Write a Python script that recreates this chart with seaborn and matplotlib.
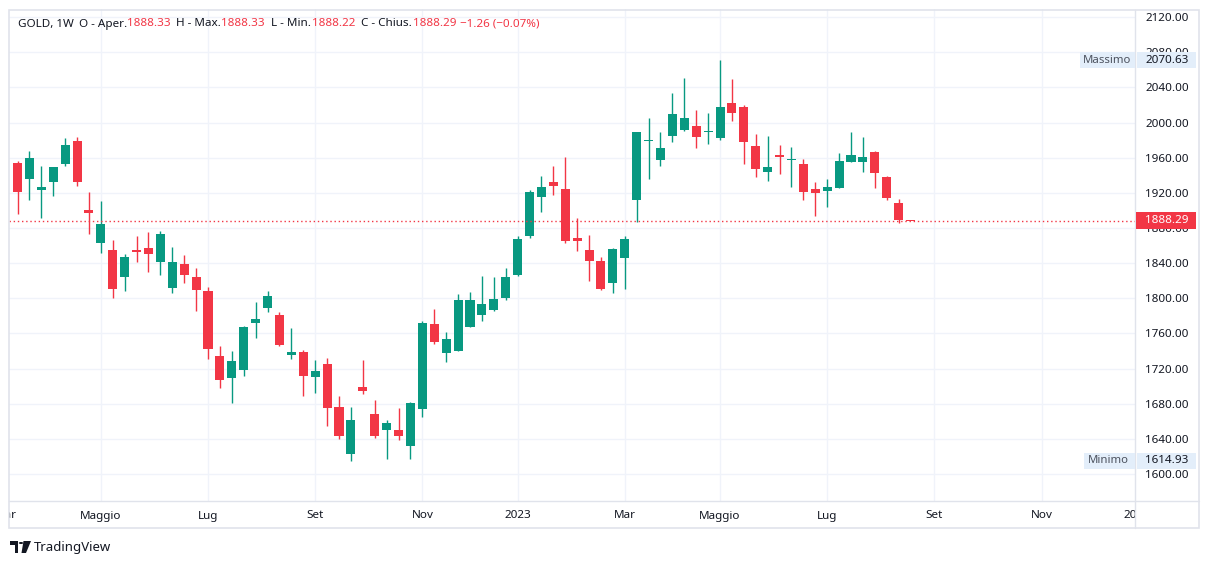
import numpy as np
import pandas as pd
import matplotlib
matplotlib.use("Agg")
import matplotlib.pyplot as plt
import seaborn as sns
from matplotlib.patches import Rectangle, Circle, Polygon
from matplotlib.lines import Line2D
from matplotlib.transforms import blended_transform_factory

# ---------------- data ----------------
start_date = "2022-03-14"
opens = [1954.2, 1935.9, 1923.4, 1932.5, 1953.2, 1979.0, 1900.4, 1863.3, 1855.0, 1824.5,
         1855.0, 1857.2, 1841.5, 1812.0, 1838.9, 1824.1, 1808.2, 1734.2, 1709.6, 1718.7,
         1772.2, 1789.3, 1781.0, 1735.7, 1738.8, 1710.7, 1725.1, 1676.3, 1623.3, 1699.0,
         1668.4, 1650.5, 1650.2, 1632.3, 1674.4, 1770.8, 1738.0, 1740.2, 1767.7, 1781.3,
         1787.0, 1800.6, 1826.7, 1871.2, 1915.5, 1932.2, 1924.2, 1868.6, 1855.0, 1842.3,
         1817.6, 1846.0, 1912.1, 1979.3, 1957.7, 1985.0, 1991.8, 1996.0, 1989.5, 1982.7,
         2022.1, 2017.5, 1973.3, 1943.9, 1963.0, 1957.7, 1952.8, 1924.2, 1922.3, 1925.7,
         1955.4, 1955.4, 1966.4, 1937.9, 1908.3, 1888.33]
highs = [1956.1, 1967.6, 1950.4, 1949.2, 1982.3, 1983.5, 1921.2, 1910.6, 1866.3, 1850.2,
         1870.9, 1875.4, 1876.5, 1858.4, 1849.1, 1834.3, 1812.8, 1745.6, 1739.9, 1768.5,
         1795.7, 1808.6, 1784.4, 1766.6, 1741.0, 1729.7, 1731.9, 1689.2, 1676.3, 1729.7,
         1684.3, 1661.6, 1675.2, 1682.0, 1774.2, 1787.8, 1761.7, 1804.8, 1807.1, 1825.3,
         1824.1, 1834.3, 1870.9, 1923.1, 1939.0, 1950.4, 1960.8, 1891.3, 1872.0, 1846.8,
         1857.2, 1870.9, 1989.2, 2005.1, 1989.2, 2033.4, 2050.5, 2014.1, 2010.7, 2070.63,
         2049.3, 2019.8, 1986.9, 1984.6, 1974.4, 1972.1, 1958.5, 1932.2, 1935.6, 1965.3,
         1989.2, 1983.5, 1967.6, 1939.0, 1912.9, 1888.33]
lows = [1895.8, 1911.7, 1891.7, 1916.3, 1950.7, 1928.0, 1873.5, 1851.9, 1800.6, 1808.5,
        1841.5, 1830.1, 1826.7, 1806.3, 1817.6, 1785.9, 1731.2, 1698.2, 1681.2, 1711.9,
        1755.2, 1784.7, 1745.6, 1731.2, 1689.2, 1692.6, 1655.1, 1640.3, 1614.93, 1691.4,
        1641.4, 1617.6, 1639.2, 1617.6, 1665.3, 1748.2, 1727.8, 1740.2, 1767.7, 1774.5,
        1785.9, 1798.3, 1825.6, 1869.0, 1898.5, 1917.8, 1863.3, 1854.2, 1819.9, 1809.7,
        1806.3, 1810.8, 1887.1, 1935.9, 1950.7, 1978.1, 1990.6, 1971.3, 1975.9, 1980.4,
        2002.0, 1953.2, 1938.2, 1933.7, 1941.6, 1926.8, 1912.1, 1893.9, 1904.1, 1925.7,
        1955.4, 1943.9, 1925.7, 1912.1, 1886.0, 1888.22]
closes = [1921.2, 1959.6, 1926.5, 1949.2, 1974.4, 1932.5, 1897.3, 1884.5, 1810.8, 1846.8,
          1852.7, 1850.6, 1873.1, 1841.1, 1826.7, 1809.7, 1742.5, 1707.3, 1728.5, 1767.4,
          1776.4, 1802.6, 1747.1, 1738.8, 1711.9, 1717.2, 1675.5, 1643.7, 1661.6, 1694.8,
          1643.7, 1658.2, 1643.7, 1680.9, 1771.9, 1750.6, 1753.8, 1798.0, 1798.0, 1793.5,
          1799.2, 1824.1, 1867.5, 1920.8, 1926.5, 1928.0, 1865.5, 1865.5, 1842.6, 1810.8,
          1856.1, 1867.5, 1989.2, 1980.4, 1971.0, 2009.6, 2005.1, 1983.8, 1990.3, 2017.5,
          2011.1, 1978.1, 1947.3, 1949.2, 1961.1, 1958.5, 1921.2, 1920.0, 1926.5, 1956.2,
          1963.0, 1960.8, 1942.8, 1914.4, 1889.55, 1888.29]

tick_dates = ["2022-03-07", "2022-05-02", "2022-07-04", "2022-09-05", "2022-11-07",
              "2023-01-02", "2023-03-06", "2023-05-01", "2023-07-03", "2023-09-04",
              "2023-11-06", "2024-01-01"]
tick_labels = ["Mar", "Maggio", "Lug", "Set", "Nov", "2023", "Mar", "Maggio", "Lug",
               "Set", "Nov", "2024"]
price_ticks = list(range(1600, 2121, 40))
last_price = 1888.29
max_price = 2070.63
min_price = 1614.93

# ---------------- style ----------------
sns.set_style("white")
plt.rcParams['font.family'] = ['Noto Sans', 'DejaVu Sans']

UP = "#089981"
DOWN = "#F23645"
GRID = "#f0f3fa"
BORDER = "#e0e3eb"
TXT = "#131722"

W, H = 1209, 564
fig = plt.figure(figsize=(W / 100, H / 100), dpi=100)
fig.patch.set_facecolor("white")

L, R, T, B = 9, 1135, 9, 501
ax = fig.add_axes([L / W, 1 - B / H, (R - L) / W, (B - T) / H])

df = pd.DataFrame({"date": pd.date_range(start_date, periods=len(opens), freq="7D"),
                   "open": opens, "high": highs, "low": lows, "close": closes})
t0 = pd.Timestamp(start_date)
df["x"] = (df["date"] - t0).dt.days / 7.0
df["up"] = df["close"] >= df["open"]
df["color"] = np.where(df["up"], UP, DOWN)

xmin, xmax = -0.714, 93.85
ymin, ymax = 1569.4, 2129.2
ax.set_xlim(xmin, xmax)
ax.set_ylim(ymin, ymax)

# grid
for p in price_ticks:
    ax.axhline(p, color=GRID, lw=1, zorder=0)
tick_x = [(pd.Timestamp(d) - t0).days / 7.0 for d in tick_dates]
for tx in tick_x:
    if xmin < tx < xmax:
        ax.axvline(tx, color=GRID, lw=1, zorder=0)

# candles
ax.vlines(df["x"], df["low"], df["high"], colors=df["color"], lw=1.0, zorder=2)
body_lo = np.minimum(df["open"], df["close"])
body_h = np.maximum(np.abs(df["close"] - df["open"]), 1.0)
ax.bar(df["x"], body_h, bottom=body_lo, width=0.76, color=df["color"],
       linewidth=0, zorder=3)

# last price dotted line
ax.axhline(last_price, color=DOWN, lw=1, ls=(0, (1, 2)), zorder=4)

for s in ax.spines.values():
    s.set_visible(False)
ax.set_xticks([])
ax.yaxis.tick_right()
ax.set_yticks(price_ticks)
ax.set_yticklabels([f"{p:.2f}" for p in price_ticks])
ax.tick_params(axis="y", length=0, pad=7.2, labelsize=8.4, labelcolor=TXT)

# time axis labels (clipped to the time-axis strip)
clip_rect = Rectangle((L / W, 1 - 528 / H), (R - L) / W, (528 - B) / H,
                      transform=fig.transFigure, facecolor="none", edgecolor="none")
fig.add_artist(clip_rect)
tr_time = blended_transform_factory(ax.transData, fig.transFigure)
for tx, lab in zip(tick_x, tick_labels):
    bold = lab.isdigit()
    t = ax.text(tx, 1 - 516 / H, lab, transform=tr_time, ha="center", va="center",
                fontsize=8.4, color=TXT, fontweight="bold" if bold else "normal",
                clip_on=True)
    t.set_clip_path(clip_rect)

# frame lines
fig.add_artist(Rectangle((8.5 / W, 1 - 528 / H), (1199 - 8.5) / W, (528 - 9.5) / H,
                         transform=fig.transFigure, fill=False, edgecolor=BORDER, lw=1.2))
fig.add_artist(Line2D([L / W, 1199 / W], [1 - B / H, 1 - B / H], transform=fig.transFigure,
                      color=BORDER, lw=1))
fig.add_artist(Line2D([R / W, R / W], [1 - 528 / H, 1 - 9.5 / H], transform=fig.transFigure,
                      color=BORDER, lw=1))

fig.canvas.draw()


def price_to_top(p):
    return H - ax.transData.transform((0, p))[1]


def box(x0, w, yc, h, color, z=6):
    fig.add_artist(Rectangle((x0 / W, 1 - (yc + h / 2) / H), w / W, h / H,
                             transform=fig.transFigure, facecolor=color,
                             edgecolor="none", zorder=z))


def ftext(x, y, s, **kw):
    fig.text(x / W, 1 - y / H, s, va="center", zorder=7, **kw)


LB = "#e3eefa"
# Massimo
yc = price_to_top(max_price)
box(1080, 55, yc, 16, LB)
box(1137, 59, yc, 16, LB)
ftext(1083, yc, "Massimo", fontsize=8.2, color="#4c525e")
ftext(1145, yc, f"{max_price:.2f}", fontsize=8.4, color=TXT)
# Minimo
yc = price_to_top(min_price)
box(1084, 51, yc, 16, LB)
box(1137, 59, yc, 16, LB)
ftext(1088, yc, "Minimo", fontsize=8.2, color="#4c525e")
ftext(1145, yc, f"{min_price:.2f}", fontsize=8.4, color=TXT)
# last price
yc = price_to_top(last_price)
box(1136, 60, yc, 17, DOWN)
ftext(1145, yc, f"{last_price:.2f}", fontsize=8.4, color="white", fontweight="bold")

# header legend
hy = 24
pieces = [(18, "GOLD, 1W", TXT), (79, "O - Aper.", TXT), (127.5, "1888.33", DOWN),
          (176, "H - Max.", TXT), (221.5, "1888.33", DOWN),
          (271, "L - Min.", TXT), (312, "1888.22", DOWN),
          (361, "C - Chius.", TXT), (412.5, "1888.29", DOWN),
          (460, "\u22121.26 (\u22120.07%)", DOWN)]
for x, s, c in pieces:
    ftext(x, hy, s, fontsize=8.4, color=c)

# TradingView logo
logo = "#131722"
fig.add_artist(Rectangle((10 / W, 1 - 545 / H), 8 / W, 4 / H, transform=fig.transFigure,
                         facecolor=logo, edgecolor="none"))
fig.add_artist(Rectangle((14.5 / W, 1 - 553 / H), 3.5 / W, 12 / H, transform=fig.transFigure,
                         facecolor=logo, edgecolor="none"))
fig.add_artist(Circle((21 / W, 1 - 543 / H), 2.2 / W, transform=fig.transFigure,
                      facecolor=logo, edgecolor="none"))
fig.add_artist(Polygon([(23.5 / W, 1 - 541 / H), (31 / W, 1 - 541 / H), (26 / W, 1 - 553 / H),
                        (21.5 / W, 1 - 553 / H)], closed=True, transform=fig.transFigure,
                       facecolor=logo, edgecolor="none"))
ftext(33.5, 547, "TradingView", fontsize=9.5, color=TXT)

fig.savefig("out.png", dpi=100, facecolor="white")
